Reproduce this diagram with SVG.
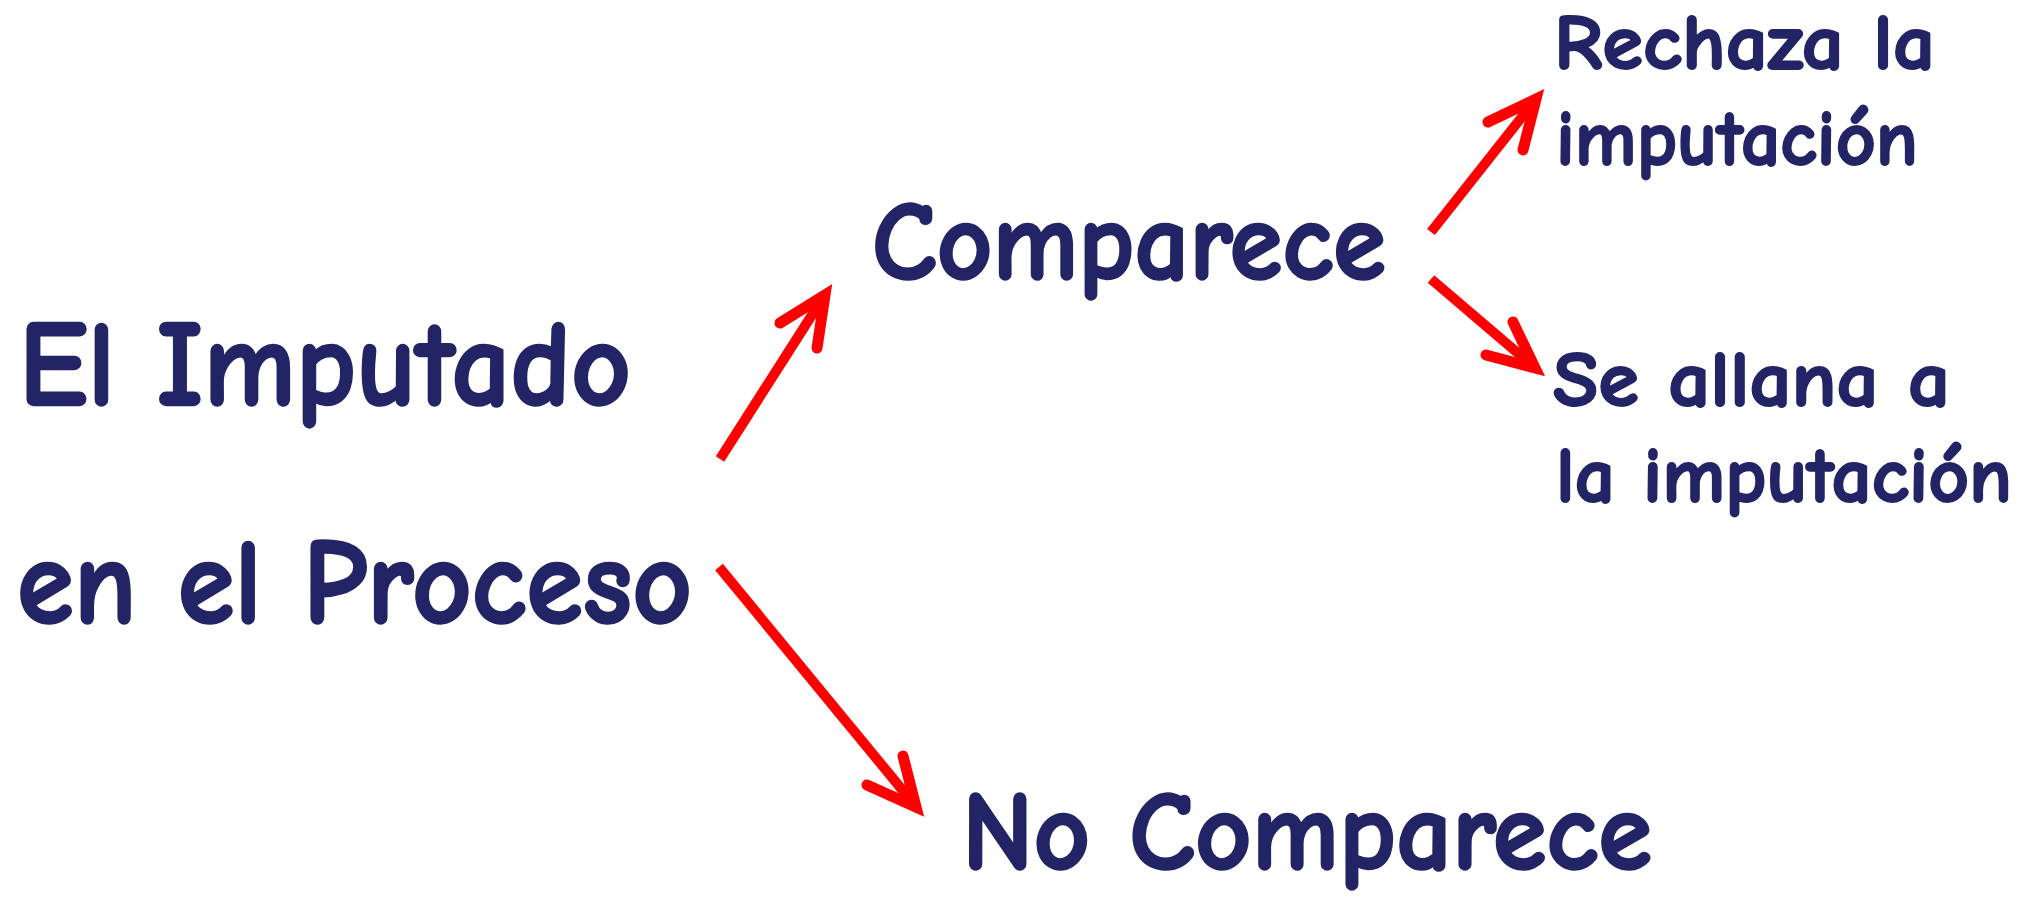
<svg xmlns="http://www.w3.org/2000/svg" width="2032" height="897" viewBox="0 0 2032 897">
<style>
.t{font-family:"Comic Sans MS","Comic Neue",Lato,"Open Sans",sans-serif;font-weight:bold;fill:#232466;stroke:#232466;stroke-linejoin:round;stroke-linecap:round}
.big{font-size:121px;stroke-width:2.5px}
.mid{font-size:112px;stroke-width:2.5px}
.sm{font-size:78px;stroke-width:2px}
.shaft{fill:none;stroke:#ff0000;stroke-width:10;stroke-linecap:butt}
.head{fill:none;stroke:#ff0000;stroke-width:11;stroke-linecap:round;stroke-linejoin:miter;stroke-miterlimit:10}
</style>
<rect width="2032" height="897" fill="#ffffff"/>
<g id="n-imputado">
<text class="t big" x="19" y="405" textLength="612" lengthAdjust="spacingAndGlyphs">El Imputado</text>
<text class="t big" x="17" y="623" textLength="675" lengthAdjust="spacingAndGlyphs">en el Proceso</text>
</g>
<g id="n-comparece">
<text class="t mid" x="872" y="279" textLength="514" lengthAdjust="spacingAndGlyphs">Comparece</text>
</g>
<g id="n-nocomparece">
<text class="t mid" x="962" y="869" textLength="690" lengthAdjust="spacingAndGlyphs">No Comparece</text>
</g>
<g id="n-rechaza">
<text class="t sm" x="1554" y="69" textLength="381" lengthAdjust="spacingAndGlyphs">Rechaza la</text>
<text class="t sm" x="1556" y="165" textLength="362" lengthAdjust="spacingAndGlyphs">imputación</text>
</g>
<g id="n-allana">
<text class="t sm" x="1553" y="406" textLength="397" lengthAdjust="spacingAndGlyphs">Se allana a</text>
<text class="t sm" x="1556" y="502" textLength="456" lengthAdjust="spacingAndGlyphs">la imputación</text>
</g>
<g id="connectors">
<path class="shaft" d="M720,459 L819,304"/>
<path class="head" d="M780,323 L825,295 L817,348"/>
<path class="shaft" d="M719,567 L909,798"/>
<path class="head" d="M867,785 L916,807 L903,756"/>
<path class="shaft" d="M1431,232 L1529,108"/>
<path class="head" d="M1488,122 L1536,99 L1523,150"/>
<path class="shaft" d="M1431,279 L1527,361"/>
<path class="head" d="M1486,355 L1535,368 L1513,322"/>
</g>
</svg>
